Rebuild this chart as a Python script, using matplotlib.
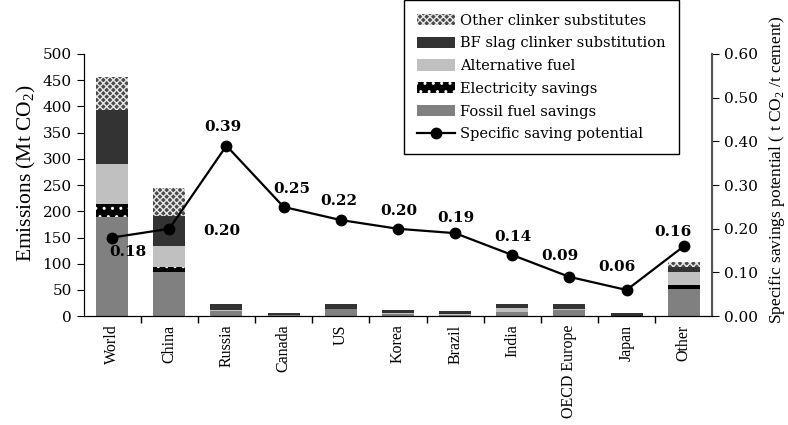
import matplotlib
matplotlib.use("Agg")
import matplotlib.pyplot as plt
import numpy as np
from matplotlib.patches import Patch
from matplotlib.lines import Line2D

plt.rcParams['font.family'] = ['Liberation Serif', 'DejaVu Serif']
plt.rcParams['hatch.linewidth'] = 1.0
plt.rcParams['mathtext.fontset'] = 'custom'
plt.rcParams['mathtext.rm'] = 'Liberation Serif'

WIDE = ['DejaVu Serif']

categories = ["World", "China", "Russia", "Canada", "US", "Korea", "Brazil", "India", "OECD Europe", "Japan", "Other"]
fossil = [189, 85, 9, 3, 13, 5, 3, 8, 11, 1, 51]
electricity = [25, 9, 0, 0, 1, 0, 0, 0, 0, 0, 8]
alt_fuel = [76, 40, 2, 0, 0, 1, 1, 7, 2, 0, 26]
bf_slag = [103, 57, 12, 3, 9, 5, 6, 8, 10, 5, 8]
other_clinker = [63, 53, 0, 0, 0, 0, 0, 0, 0, 0, 10]
specific = [0.18, 0.20, 0.39, 0.25, 0.22, 0.20, 0.19, 0.14, 0.09, 0.06, 0.16]
spec_labels = ["0.18", "0.20", "0.39", "0.25", "0.22", "0.20", "0.19", "0.14", "0.09", "0.06", "0.16"]

fig = plt.figure(figsize=(7.88, 4.25), dpi=100)
ax = fig.add_axes([0.106, 0.256, 0.798, 0.617])
ax2 = ax.twinx()

x = np.arange(len(categories))
w = 0.56
series = [
    (fossil, dict(color="#808080"), "Fossil fuel savings"),
    (electricity, dict(color="#000000", hatch="..", edgecolor="white"), "Electricity savings"),
    (alt_fuel, dict(color="#c0c0c0"), "Alternative fuel"),
    (bf_slag, dict(color="#333333"), "BF slag clinker substitution"),
    (other_clinker, dict(color="#4a4a4a", hatch="xxxxx", edgecolor="#e8e8e8"), "Other clinker substitutes"),
]
bottom = np.zeros(len(categories))
handles = {}
for vals, style, name in series:
    v = np.array(vals, dtype=float)
    if "hatch" in style:
        ax.bar(x, v, w, bottom=bottom, facecolor=style["color"], hatch=style["hatch"],
               edgecolor=style["edgecolor"], linewidth=0)
        handles[name] = Patch(facecolor=style["color"], hatch=style["hatch"], edgecolor=style["edgecolor"],
                              linewidth=0, label=name)
    else:
        ax.bar(x, v, w, bottom=bottom, color=style["color"], linewidth=0)
        handles[name] = Patch(facecolor=style["color"], label=name)
    bottom += v

ax.set_xlim(-0.5, len(categories) - 0.5)
ax.set_ylim(0, 500)
ax.set_yticks(np.arange(0, 501, 50))
ax.set_xticks(x)
ax.set_xticklabels(categories, rotation=90, fontsize=11.5)
ax.set_xticks(np.arange(0.5, len(categories) - 1, 1), minor=True)
ax.tick_params(axis="x", which="major", length=0, pad=6)
ax.tick_params(axis="x", which="minor", length=5, direction="out", width=1)
ax.tick_params(axis="y", direction="out", length=5)
for t in ax.get_yticklabels():
    t.set_family(WIDE)
    t.set_fontsize(11)
ax.set_ylabel("Emissions (Mt CO$_{2}$)", fontsize=15.5)
ax.yaxis.set_label_coords(-0.073, 0.546)
ax.spines["top"].set_visible(False)
ax2.spines["top"].set_visible(False)

ax2.plot(x, specific, color="black", marker="o", markersize=7.5, linewidth=1.6)
ax2.set_ylim(0, 0.6)
ax2.set_yticks(np.arange(0, 0.61, 0.1))
ax2.set_yticklabels([f"{t:.2f}" for t in np.arange(0, 0.61, 0.1)], family=WIDE, fontsize=11)
ax2.tick_params(axis="y", direction="out", length=5)
ax2.set_ylabel("Specific savings potential ( t CO$_{2}$ /t cement)", fontsize=12.5)
ax2.yaxis.set_label_coords(1.087, 0.557)
ax2.spines["right"].set_color("#555555")
ax2.spines["right"].set_linewidth(1.5)

offsets = [(16, -14), (53, -2), (-4, 19), (8, 18), (-2, 19), (1, 18), (1, 15), (1, 18), (-10, 21), (-10, 23), (-11, 14)]
for i, (v, lab) in enumerate(zip(specific, spec_labels)):
    dx, dy = offsets[i]
    ax2.annotate(lab, (i, v), xytext=(dx, dy), textcoords="offset pixels",
                 ha="center", va="center", fontsize=11, fontweight="bold", family=WIDE)

leg_handles = [handles["Other clinker substitutes"], handles["BF slag clinker substitution"],
               handles["Alternative fuel"], handles["Electricity savings"], handles["Fossil fuel savings"],
               Line2D([0], [0], color="black", marker="o", markersize=7.5, linewidth=1.6, label="Specific saving potential")]
fig.legend(handles=leg_handles, loc="upper left", bbox_to_anchor=(0.513, 0.999),
           prop={"family": WIDE, "size": 10.5},
           frameon=True, fancybox=False, edgecolor="black", framealpha=1, handlelength=2.6,
           handleheight=0.8, labelspacing=0.6, borderpad=0.9, borderaxespad=0, handletextpad=0.35)

fig.savefig("out.png", dpi=100)
